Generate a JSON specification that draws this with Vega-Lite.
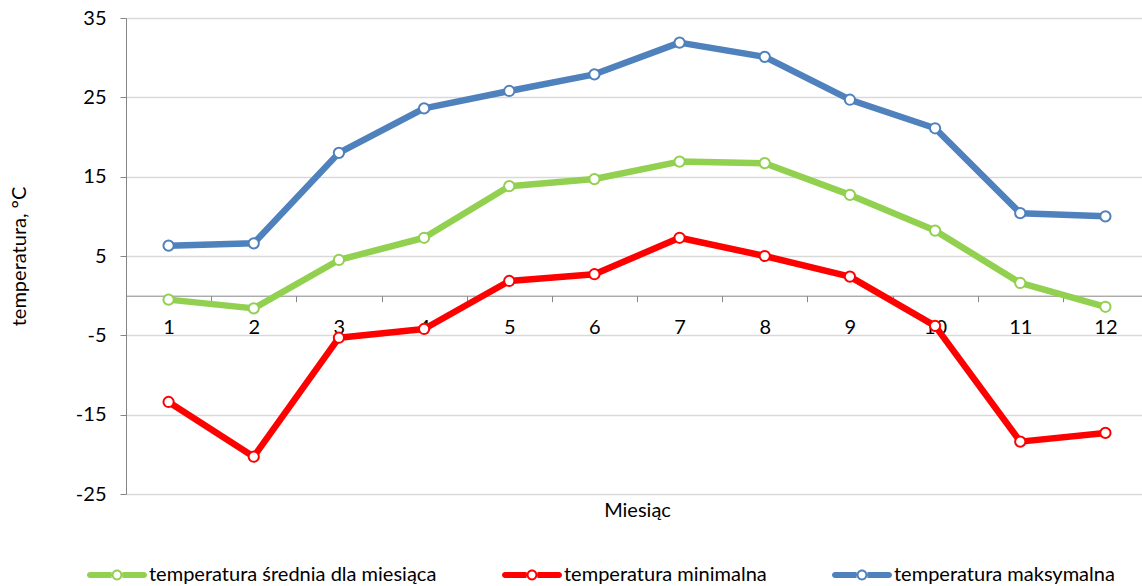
{
  "$schema": "https://vega.github.io/schema/vega-lite/v6.json",
  "width": 1022,
  "height": 476,
  "autosize": {"type": "none"},
  "padding": {"left": 126, "top": 18, "right": 0, "bottom": 92},
  "background": "white",
  "config": {
    "font": "Lato",
    "view": {"stroke": null},
    "axis": {"labelFont": "Lato", "titleFont": "Lato", "labelColor": "#000000", "titleColor": "#000000", "labelFontSize": 20, "titleFontSize": 20, "titleFontWeight": "normal"},
    "legend": {"labelFont": "Lato", "labelFontSize": 20, "labelColor": "#000000", "labelLimit": 500}
  },
  "data": {
    "values": [
      {"month": "1", "series": "temperatura średnia dla miesiąca", "value": -0.5},
      {"month": "2", "series": "temperatura średnia dla miesiąca", "value": -1.6},
      {"month": "3", "series": "temperatura średnia dla miesiąca", "value": 4.5},
      {"month": "4", "series": "temperatura średnia dla miesiąca", "value": 7.3},
      {"month": "5", "series": "temperatura średnia dla miesiąca", "value": 13.8},
      {"month": "6", "series": "temperatura średnia dla miesiąca", "value": 14.7},
      {"month": "7", "series": "temperatura średnia dla miesiąca", "value": 16.9},
      {"month": "8", "series": "temperatura średnia dla miesiąca", "value": 16.7},
      {"month": "9", "series": "temperatura średnia dla miesiąca", "value": 12.7},
      {"month": "10", "series": "temperatura średnia dla miesiąca", "value": 8.2},
      {"month": "11", "series": "temperatura średnia dla miesiąca", "value": 1.6},
      {"month": "12", "series": "temperatura średnia dla miesiąca", "value": -1.4},
      {"month": "1", "series": "temperatura minimalna", "value": -13.4},
      {"month": "2", "series": "temperatura minimalna", "value": -20.3},
      {"month": "3", "series": "temperatura minimalna", "value": -5.3},
      {"month": "4", "series": "temperatura minimalna", "value": -4.2},
      {"month": "5", "series": "temperatura minimalna", "value": 1.85},
      {"month": "6", "series": "temperatura minimalna", "value": 2.7},
      {"month": "7", "series": "temperatura minimalna", "value": 7.3},
      {"month": "8", "series": "temperatura minimalna", "value": 5.0},
      {"month": "9", "series": "temperatura minimalna", "value": 2.4},
      {"month": "10", "series": "temperatura minimalna", "value": -3.8},
      {"month": "11", "series": "temperatura minimalna", "value": -18.4},
      {"month": "12", "series": "temperatura minimalna", "value": -17.3},
      {"month": "1", "series": "temperatura maksymalna", "value": 6.3},
      {"month": "2", "series": "temperatura maksymalna", "value": 6.6},
      {"month": "3", "series": "temperatura maksymalna", "value": 18.0},
      {"month": "4", "series": "temperatura maksymalna", "value": 23.6},
      {"month": "5", "series": "temperatura maksymalna", "value": 25.8},
      {"month": "6", "series": "temperatura maksymalna", "value": 27.9},
      {"month": "7", "series": "temperatura maksymalna", "value": 31.9},
      {"month": "8", "series": "temperatura maksymalna", "value": 30.1},
      {"month": "9", "series": "temperatura maksymalna", "value": 24.7},
      {"month": "10", "series": "temperatura maksymalna", "value": 21.1},
      {"month": "11", "series": "temperatura maksymalna", "value": 10.4},
      {"month": "12", "series": "temperatura maksymalna", "value": 10.0}
    ]
  },
  "encoding": {
    "x": {
      "field": "month", "type": "ordinal", "sort": null,
      "scale": {"type": "band", "paddingInner": 0, "paddingOuter": 0},
      "axis": {
        "title": "Miesiąc", "labelAngle": 0, "offset": -198.3, "tickBand": "extent",
        "domainColor": "#868686", "tickColor": "#868686", "tickSize": 6, "labelPadding": 16,
        "titleY": 221, "titleBaseline": "alphabetic", "grid": false
      }
    },
    "y": {
      "field": "value", "type": "quantitative",
      "scale": {"domain": [-25, 35], "nice": false, "zero": false},
      "axis": {
        "title": "temperatura, °C", "values": [-25, -15, -5, 5, 15, 25, 35],
        "labelExpr": "datum.value < 0 ? '-' + abs(datum.value) : '' + datum.value",
        "domainColor": "#868686", "tickColor": "#868686", "tickSize": 6, "labelPadding": 14,
        "gridColor": "#d9d9d9", "gridWidth": 1.3,
        "titleX": -107, "titleBaseline": "middle"
      }
    },
    "color": {
      "field": "series", "type": "nominal",
      "scale": {
        "domain": ["temperatura średnia dla miesiąca", "temperatura minimalna", "temperatura maksymalna"],
        "range": ["#92D050", "#FF0000", "#4F81BD"]
      },
      "legend": {
        "title": null, "orient": "none", "direction": "horizontal", "legendX": -39, "legendY": 527,
        "padding": 0, "columnPadding": 65, "labelOffset": 2, "labelLimit": 500,
        "symbolSize": 3600,
        "symbolType": "M-0.9,-0.1 H-0.18 V0.1 H-0.9 A0.1,0.1 0 0,1 -0.9,-0.1 Z M0.18,-0.1 H0.9 A0.1,0.1 0 0,1 0.9,0.1 H0.18 Z M0.18,0 A0.18,0.18 0 1,1 -0.18,0 A0.18,0.18 0 1,1 0.18,0 Z M0.115,0 A0.115,0.115 0 1,0 -0.115,0 A0.115,0.115 0 1,0 0.115,0 Z",
        "symbolStrokeWidth": 0,
        "encode": {
          "symbols": {
            "update": {
              "fill": {"scale": "color", "field": "value"},
              "stroke": {"value": "transparent"},
              "strokeWidth": {"value": 0},
              "opacity": {"value": 1}
            }
          }
        }
      }
    }
  },
  "layer": [
    {"mark": {"type": "line", "strokeWidth": 6.5, "strokeJoin": "round", "strokeCap": "round"}},
    {"mark": {"type": "point", "filled": false, "fill": "white", "size": 105, "strokeWidth": 2, "opacity": 1}}
  ]
}
